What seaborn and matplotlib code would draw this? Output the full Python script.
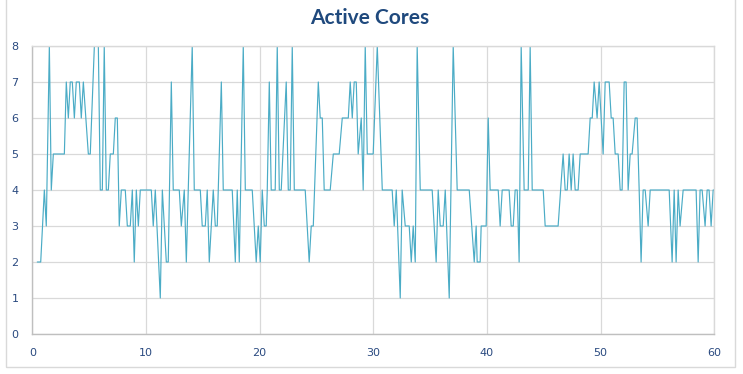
import seaborn as sns
import matplotlib.pyplot as plt
import matplotlib.patches as mpatches
import pandas as pd

# Sample times (s) where the active-core count changes
t = [
    0.44, 0.74, 1.06, 1.23, 1.50, 1.67, 1.85, 2.82, 2.99, 3.17, 3.34, 3.52, 3.70, 3.87, 4.14,
    4.31, 4.49, 4.93, 5.10, 5.46, 5.81, 5.98, 6.16, 6.33, 6.51, 6.69, 6.86, 7.13, 7.30, 7.48,
    7.65, 7.83, 8.18, 8.36, 8.62, 8.80, 8.97, 9.15, 9.33, 9.50, 10.47, 10.64, 10.82,
    11.26, 11.44, 11.79, 11.96, 12.23, 12.40, 12.93, 13.11, 13.37, 13.55, 13.72, 14.07, 14.25,
    14.78, 14.95, 15.22, 15.39, 15.57, 15.92, 16.10, 16.27, 16.36, 16.63, 16.80, 17.59, 17.86,
    18.03, 18.21, 18.56, 18.74, 19.35, 19.70, 19.88, 20.05, 20.23, 20.41, 20.58, 20.67, 20.85,
    21.02, 21.37, 21.55, 21.73,
    21.90, 22.34, 22.52, 22.69, 22.87, 23.05, 24.01, 24.36, 24.54, 24.72, 25.16, 25.33, 25.51,
    25.68, 26.21, 26.48, 27.00, 27.27, 27.80, 27.97, 28.15, 28.32, 28.50, 28.67, 28.94, 29.11,
    29.29, 29.47, 29.99, 30.35, 30.79, 31.66, 31.84, 32.02,
    32.37, 32.54, 32.81, 33.16, 33.34, 33.51, 33.69, 33.86, 34.13, 35.18, 35.53, 35.71, 35.89,
    36.15, 36.33, 36.68, 37.03, 37.38, 38.44, 38.88, 39.05, 39.14, 39.40, 39.49, 39.93, 40.11,
    40.28, 40.99, 41.16, 41.34, 41.95, 42.13, 42.31, 42.48, 42.66, 42.83,
    43.01, 43.27, 43.63, 43.80, 43.98, 44.95, 45.12, 46.26, 46.70, 46.88, 47.06, 47.23, 47.41,
    47.58, 47.76, 48.02, 48.20, 48.90, 49.08, 49.26, 49.43, 49.69, 49.87, 50.22, 50.40, 50.75,
    50.93, 51.10, 51.28, 51.54, 51.72, 51.89, 52.07, 52.24, 52.42, 52.60, 52.77, 53.04, 53.21,
    53.39, 53.56, 53.74, 53.92, 54.18, 54.36, 56.03, 56.29, 56.47, 56.64, 56.82, 56.99, 57.26,
    58.40, 58.58, 58.75, 58.93, 59.19, 59.37, 59.54, 59.72, 59.90, 59.99,
]

cores = [
    2, 2, 4, 3, 8, 4, 5, 5, 7, 6, 7, 7, 6, 7, 7,
    6, 7, 5, 5, 8, 8, 4, 4, 8, 4, 4, 5, 5, 6, 6,
    3, 4, 4, 3, 3, 4, 2, 4, 3, 4, 4, 3, 4,
    1, 4, 2, 2, 7, 4, 4, 3, 4, 2, 4, 8, 4,
    4, 3, 3, 4, 2, 4, 3, 3, 4, 7, 4, 4, 2,
    4, 2, 8, 4, 4, 2, 3, 2, 4, 3, 3, 4, 7,
    4, 4, 8, 4,
    4, 7, 4, 4, 8, 4, 4, 2, 3, 3, 7, 6, 6,
    4, 4, 5, 5, 6, 6, 7, 6, 7, 7, 5, 6, 4,
    8, 5, 5, 8, 4, 4, 3, 4,
    1, 4, 3, 3, 2, 3, 2, 8, 4, 4, 2, 4, 3,
    3, 4, 1, 8, 4, 4, 2, 3, 2, 2, 3, 3, 6,
    4, 4, 3, 4, 4, 3, 3, 4, 4, 2,
    8, 4, 4, 8, 4, 4, 3, 3, 5, 4, 4, 5, 4,
    5, 4, 4, 5, 5, 6, 6, 7, 6, 7, 5, 7, 7,
    6, 6, 5, 5, 4, 4, 7, 7, 4, 5, 5, 6, 6,
    4, 2, 4, 4, 3, 4, 4, 2, 4, 2, 4, 3, 4,
    4, 2, 4, 4, 3, 4, 4, 3, 4, 4,
]

df = pd.DataFrame({'Time': t, 'Cores': cores})

sns.set_style('white')
plt.rcParams['font.family'] = ['DejaVu Sans']

fig = plt.figure(figsize=(7.43, 3.74), dpi=100)
ax = fig.add_axes([32.3 / 743, 1 - 334 / 374, (714.3 - 32.3) / 743, (334 - 46) / 374])

# outer chart frame
fig.patches.append(mpatches.Rectangle((6.5 / 743, 1 - 366.7 / 374), (734.7 - 6.5) / 743, 1.2,
                                      transform=fig.transFigure, fill=False,
                                      edgecolor='#D9D9D9', linewidth=1.0))

sns.lineplot(data=df, x='Time', y='Cores', estimator=None, sort=False,
             color='#4BACC6', linewidth=0.85, ax=ax)

ax.set_xlim(0, 60)
ax.set_ylim(0, 8)
ax.set_xticks(range(0, 61, 10))
ax.set_yticks(range(0, 9))
ax.grid(True, color='#D9D9D9', linewidth=0.9)
ax.set_axisbelow(True)
ax.set_xlabel('')
ax.set_ylabel('')

for side in ['top', 'right']:
    ax.spines[side].set_color('#D9D9D9')
for side in ['left', 'bottom']:
    ax.spines[side].set_color('#BFBFBF')
for s in ax.spines.values():
    s.set_linewidth(1.0)

ax.tick_params(axis='both', length=0, labelsize=8, labelcolor='#2A4A80', pad=10)

fig.text(370 / 743, 1 - 18 / 374, 'Active Cores', ha='center', va='center',
         fontsize=15, fontweight='bold', color='#1F497D', family=['Lato', 'DejaVu Sans'])

plt.savefig('out.png', dpi=100)
plt.close()
